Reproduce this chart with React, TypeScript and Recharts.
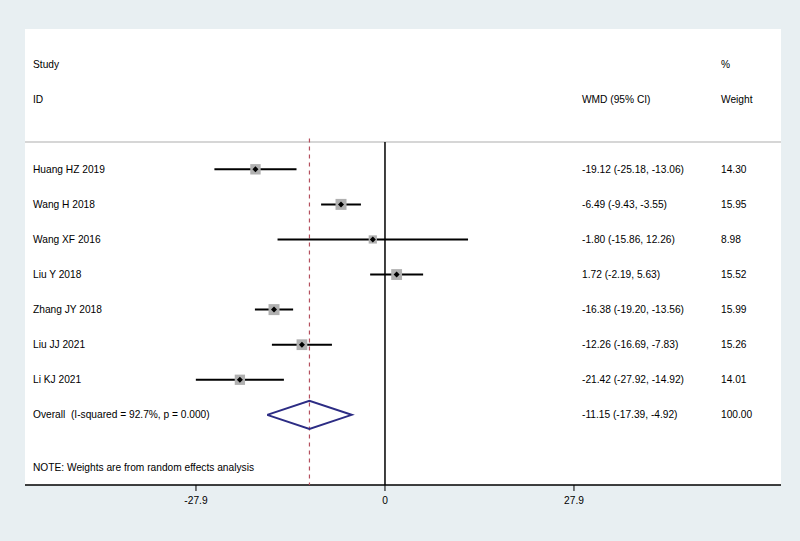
import { ComposedChart, Scatter, XAxis, YAxis, CartesianGrid } from 'recharts';

const studies = ['Huang HZ 2019', 'Wang H 2018', 'Wang XF 2016', 'Liu Y 2018', 'Zhang JY 2018', 'Liu JJ 2021', 'Li KJ 2021'];
const wmd = [-19.12, -6.49, -1.8, 1.72, -16.38, -12.26, -21.42];
const lower = [-25.18, -9.43, -15.86, -2.19, -19.2, -16.69, -27.92];
const upper = [-13.06, -3.55, 12.26, 5.63, -13.56, -7.83, -14.92];
const weights = [14.3, 15.95, 8.98, 15.52, 15.99, 15.26, 14.01];

const overallEst = -11.15;
const overallLo = -17.39;
const overallHi = -4.92;
const overallWeight = 100.0;
const overallLabel = 'Overall  (I-squared = 92.7%, p = 0.000)';
const noteLabel = 'NOTE: Weights are from random effects analysis';

const xTicks = [-27.9, 0, 27.9];

// row slots on the y scale
const FIRST_ROW = 4;
const SEP_ROW = 3.22;
const BOTTOM = 13;

const NAME_X = 33;
const CI_X = 582;
const W_X = 721;
const FONT = 'Arial, "Liberation Sans", Helvetica, sans-serif';
const FS = 10.2;

const fmt = (v: number) => v.toFixed(2);

const studyRows = studies.map((name, i) => ({
  name,
  x: wmd[i],
  row: FIRST_ROW + i,
  weight: weights[i],
  ci: `${fmt(wmd[i])} (${fmt(lower[i])}, ${fmt(upper[i])})`,
}));

const overallRow = FIRST_ROW + studies.length;

const textRows = [
  { x: 0, row: 1, left: 'Study', mid: '', right: '%' },
  { x: 0, row: 2, left: 'ID', mid: 'WMD (95% CI)', right: 'Weight' },
  {
    x: 0,
    row: overallRow,
    left: overallLabel,
    mid: `${fmt(overallEst)} (${fmt(overallLo)}, ${fmt(overallHi)})`,
    right: fmt(overallWeight),
  },
  { x: 0, row: 12.5, left: noteLabel, mid: '', right: '' },
];

const diamond = [
  { x: overallLo, row: overallRow },
  { x: overallEst, row: overallRow - 0.4 },
  { x: overallHi, row: overallRow },
  { x: overallEst, row: overallRow + 0.4 },
  { x: overallLo, row: overallRow },
];

const empty = () => <g />;

const txt = (x: number, y: number, s: string) => (
  <text x={x} y={y} dominantBaseline="central" fontSize={FS} fontFamily={FONT} fill="#000" style={{ whiteSpace: 'pre' }}>
    {s}
  </text>
);

const StudyShape = (props: any) => {
  const { cx, cy, payload } = props;
  const side = 2.75 * Math.sqrt(payload.weight);
  return (
    <g>
      <rect x={cx - side / 2} y={cy - side / 2} width={side} height={side} fill="#b0b0b0" />
      <polygon points={`${cx - 3},${cy} ${cx},${cy - 3} ${cx + 3},${cy} ${cx},${cy + 3}`} fill="#000" />
      {txt(NAME_X, cy, payload.name)}
      {txt(CI_X, cy, payload.ci)}
      {txt(W_X, cy, fmt(payload.weight))}
    </g>
  );
};

const TextShape = (props: any) => {
  const { cy, payload } = props;
  return (
    <g>
      {txt(NAME_X, cy, payload.left)}
      {payload.mid && txt(CI_X, cy, payload.mid)}
      {payload.right && txt(W_X, cy, payload.right)}
    </g>
  );
};

export default function App() {
  return (
    <div style={{ position: 'absolute', left: 0, top: 0, width: 800, height: 541, background: '#e8eff2' }}>
      <ComposedChart width={800} height={541} margin={{ top: 29, right: 19, left: 25, bottom: 26 }}>
        <CartesianGrid fill="#ffffff" horizontal={false} vertical={false} />
        <XAxis
          type="number"
          dataKey="x"
          domain={[-53.14, 58.46]}
          allowDataOverflow
          ticks={xTicks}
          height={30}
          tickSize={6}
          tickMargin={6}
          tick={{ fontSize: FS, fill: '#000', fontFamily: FONT }}
          tickLine={{ stroke: '#000' }}
          axisLine={{ stroke: '#000', strokeWidth: 1.5 }}
        />
        <YAxis type="number" dataKey="row" domain={[0, BOTTOM]} reversed hide />
        <Scatter
          data={[{ x: -53.14, row: SEP_ROW }, { x: 58.46, row: SEP_ROW }]}
          line={{ stroke: '#c8c8c8', strokeWidth: 1.5 }}
          shape={empty}
          isAnimationActive={false}
        />
        <Scatter
          data={[{ x: 0, row: SEP_ROW }, { x: 0, row: BOTTOM }]}
          line={{ stroke: '#000', strokeWidth: 1.5 }}
          shape={empty}
          isAnimationActive={false}
        />
        <Scatter
          data={[{ x: overallEst, row: SEP_ROW - 0.1 }, { x: overallEst, row: BOTTOM }]}
          line={{ stroke: '#b5505f', strokeWidth: 1.2, strokeDasharray: '4 4' }}
          shape={empty}
          isAnimationActive={false}
        />
        {studyRows.map((r, i) => (
          <Scatter
            key={r.name}
            data={[{ x: lower[i], row: r.row }, { x: upper[i], row: r.row }]}
            line={{ stroke: '#000', strokeWidth: 2 }}
            shape={empty}
            isAnimationActive={false}
          />
        ))}
        <Scatter data={studyRows} shape={StudyShape} isAnimationActive={false} />
        <Scatter
          data={diamond}
          line={{ stroke: '#2c2c84', strokeWidth: 2, fill: 'none' }}
          shape={empty}
          isAnimationActive={false}
        />
        <Scatter data={textRows} shape={TextShape} isAnimationActive={false} />
      </ComposedChart>
    </div>
  );
}
